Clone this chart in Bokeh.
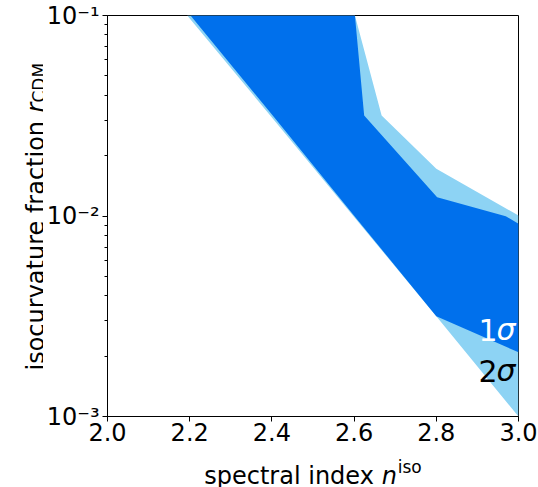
import math
from bokeh.plotting import figure
from bokeh.layouts import row, column
from bokeh.models import FixedTicker, NumeralTickFormatter
from bokeh.core.properties import value
from bokeh.embed import file_html
from bokeh.resources import INLINE

# ---- data ----
x_ticks = [2.0, 2.2, 2.4, 2.6, 2.8, 3.0]
y_ticks = [1e-3, 1e-2, 1e-1]
y_tick_labels = ["10⁻³", "10⁻²", "10⁻¹"]
y_minor = [m * 10.0 ** k for k in (-3, -2) for m in range(2, 10)]

# 2-sigma region (outline: upper edge left->right, lower edge right->left)
sigma2_n = [2.194, 2.602, 2.667, 2.800, 3.000, 3.000, 2.795, 2.600, 2.400]
sigma2_r = [0.100, 0.100, 0.0317, 0.0172, 0.01005, 0.0010, 0.00325, 0.0099, 0.0310]

# 1-sigma region
sigma1_n = [2.202, 2.602, 2.6245, 2.802, 2.969, 3.000, 3.000, 2.800, 2.606, 2.406]
sigma1_r = [0.100, 0.100, 0.0317, 0.0124, 0.00997, 0.00914, 0.00209, 0.00316, 0.0097, 0.0310]

FONT = "DejaVu Sans"
FS = 24

# page geometry (pixels)
PAGE_W, PAGE_H = 538, 487
FRAME_L, FRAME_R, FRAME_T, FRAME_B = 106, 518, 15, 416
LEFT_W = 43
MAIN_W = PAGE_W - LEFT_W
MAIN_H = 450
BOTTOM_H = PAGE_H - MAIN_H
BL = FRAME_L - LEFT_W
BR = PAGE_W - FRAME_R

p = figure(width=MAIN_W, height=MAIN_H, x_range=(2.0, 3.0), y_range=(1e-3, 1e-1),
           y_axis_type="log", output_backend="svg", toolbar_location=None,
           min_border_left=BL, min_border_right=BR, min_border_top=FRAME_T,
           min_border_bottom=MAIN_H - FRAME_B)

p.patch(sigma2_n, sigma2_r, fill_color="#8DD3F4", line_color=None)
p.patch(sigma1_n, sigma1_r, fill_color="#0070EC", line_color=None)

p.xgrid.visible = False
p.ygrid.visible = False
p.outline_line_color = "black"
p.outline_line_width = 1
p.outline_line_alpha = 1

for ax in (p.xaxis[0], p.yaxis[0]):
    ax.axis_line_color = "black"
    ax.axis_line_width = 1
    ax.major_tick_line_color = "black"
    ax.minor_tick_line_color = "black"
    ax.major_tick_in = 0
    ax.major_tick_out = 5
    ax.minor_tick_in = 0
    ax.minor_tick_out = 3
    ax.major_label_text_font = FONT
    ax.major_label_text_font_size = f"{FS}px"
    ax.major_label_text_color = "black"
    ax.axis_label = None

p.xaxis[0].ticker = FixedTicker(ticks=x_ticks, minor_ticks=[])
p.xaxis[0].formatter = NumeralTickFormatter(format="0.0")
p.xaxis[0].major_label_standoff = 1
p.yaxis[0].ticker = FixedTicker(ticks=y_ticks, minor_ticks=y_minor)
p.yaxis[0].major_label_overrides = {t: l for t, l in zip(y_ticks, y_tick_labels)}
p.yaxis[0].major_label_standoff = 3


def txt(fig, text, x, y, size=FS, style="normal", align="left", angle=0,
        color="black", x_offset=0):
    fig.text(x=[x], y=[y], text=[text], text_font=value(FONT),
             text_font_size=value(f"{size}px"), text_font_style=value(style),
             text_align=value(align), text_baseline=value("alphabetic"),
             angle=angle, text_color=color, x_offset=x_offset)


def blank(w, h, xr, yr, bl=0, br=0):
    f = figure(width=w, height=h, x_range=xr, y_range=yr,
               output_backend="svg", toolbar_location=None,
               x_axis_location=None, y_axis_location=None,
               min_border_left=bl, min_border_right=br,
               min_border_top=0, min_border_bottom=0)
    f.xgrid.visible = False
    f.ygrid.visible = False
    f.outline_line_color = None
    return f


# sigma labels inside the plot, anchored at the right edge (n = 3.0)
PX_PER_DECADE = (FRAME_B - FRAME_T) / 2.0
y1 = 10 ** (-3 + 87 / PX_PER_DECADE)
y2 = 10 ** (-3 + 46 / PX_PER_DECADE)
txt(p, "σ", 3.0, y1, size=30, style="italic", align="right", color="white", x_offset=-3)
txt(p, "1", 3.0, y1, size=30, align="right", color="white", x_offset=-21)
txt(p, "σ", 3.0, y2, size=30, style="italic", align="right", x_offset=-3)
txt(p, "2", 3.0, y2, size=30, align="right", x_offset=-21)

# y-axis label: isocurvature fraction r_CDM  (page coords, y flipped)
left = blank(LEFT_W, PAGE_H, (0, LEFT_W), (PAGE_H, 0))
txt(left, "isocurvature fraction ", 35, 370, angle=math.pi / 2)
txt(left, "r", 35, 112, style="italic", angle=math.pi / 2)
txt(left, "CDM", 38.5, 102, size=17, angle=math.pi / 2)

# x-axis label: spectral index n^iso  (page coords, frame-aligned)
bottom = blank(MAIN_W, BOTTOM_H, (FRAME_L, FRAME_R), (PAGE_H, MAIN_H), bl=BL, br=BR)
txt(bottom, "spectral index ", 203, 475)
txt(bottom, "n", 381, 475, style="italic")
txt(bottom, "iso", 397, 466, size=17)

layout = row(left, column(p, bottom))
open("out.html", "w").write(file_html(layout, INLINE))
